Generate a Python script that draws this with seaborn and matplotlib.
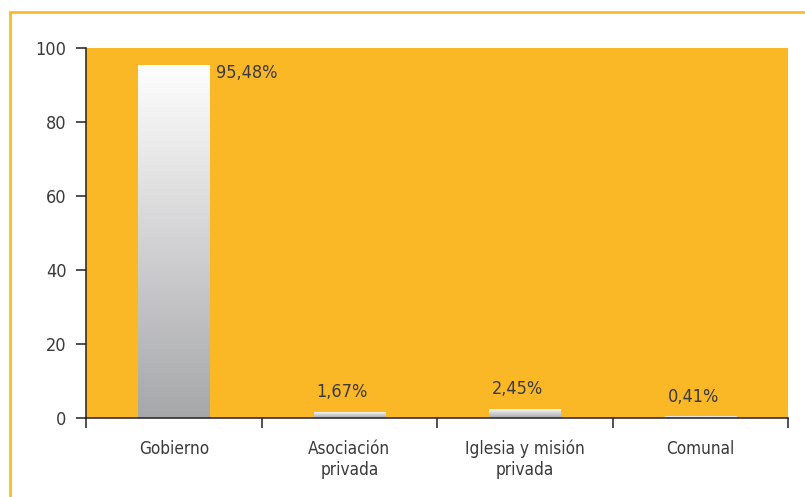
import matplotlib
matplotlib.use("Agg")
import matplotlib.pyplot as plt
import numpy as np
import pandas as pd
import seaborn as sns
from matplotlib.colors import LinearSegmentedColormap
from matplotlib.patches import Rectangle
from matplotlib import font_manager

categories = ["Gobierno", "Asociación\nprivada", "Iglesia y misión\nprivada", "Comunal"]
values = [95.48, 1.67, 2.45, 0.41]
value_labels = ["95,48%", "1,67%", "2,45%", "0,41%"]
y_ticks = [0, 20, 40, 60, 80, 100]

ORANGE = "#FBB826"
TEXT = "#3a3a3a"
AXIS = "#231f20"

sns.set_style("ticks")
names = {f.name for f in font_manager.fontManager.ttflist}
if "Liberation Sans Narrow" in names:
    plt.rcParams["font.family"] = ["Liberation Sans Narrow", "DejaVu Sans"]
else:
    plt.rcParams["font.family"] = ["DejaVu Sans"]
    plt.rcParams["font.stretch"] = "condensed"

df = pd.DataFrame({"cat": categories, "val": values})

fig = plt.figure(figsize=(8.05, 4.97), dpi=100)
ax = fig.add_axes([86 / 805, 1 - 417.7 / 497, (788 - 86) / 805, (417.7 - 48.3) / 497])
ax.set_facecolor(ORANGE)

sns.barplot(data=df, x="cat", y="val", ax=ax, width=0.405, color="white",
            edgecolor="none", linewidth=0, saturation=1)

cmap = LinearSegmentedColormap.from_list("g", ["#a6a7a9", "#fefefe"])
grad = np.linspace(0, 1, 256).reshape(-1, 1)
for p in list(ax.patches):
    x0 = p.get_x()
    w = p.get_width()
    h = p.get_height()
    im = ax.imshow(grad, cmap=cmap, origin="lower", aspect="auto",
                   extent=[x0, x0 + w, 0, h], zorder=p.get_zorder(), interpolation="bilinear")
    im.set_clip_path(p)

ax.set_xlim(-0.5, 3.5)
ax.set_ylim(0, 100)
ax.set_yticks(y_ticks)
ax.set_xlabel("")
ax.set_ylabel("")

# Value labels
for i, (v, lab) in enumerate(zip(values, value_labels)):
    if i == 0:
        ax.annotate(lab, xy=(i + 0.405 / 2, v), xytext=(5, -6), textcoords="offset points",
                    ha="left", va="center", fontsize=13, color=TEXT)
    else:
        ax.annotate(lab, xy=(i, v), xytext=(-5, 14), textcoords="offset points",
                    ha="center", va="center", fontsize=13, color=TEXT)

# Spines and ticks
for s in ["top", "right"]:
    ax.spines[s].set_visible(False)
for s in ["left", "bottom"]:
    ax.spines[s].set_color(AXIS)
    ax.spines[s].set_linewidth(1.1)

ax.tick_params(axis="y", direction="out", length=7, width=1.1, color=AXIS, pad=7,
               labelsize=13, labelcolor=TEXT)
ax.set_xticks(range(len(categories)))
ax.set_xticklabels(categories)
ax.set_xticks([-0.5, 0.5, 1.5, 2.5, 3.5], minor=True)
ax.tick_params(axis="x", which="major", length=0, pad=16, labelsize=12.3, labelcolor=TEXT)
ax.tick_params(axis="x", which="minor", direction="out", length=7, width=1.1, color=AXIS)

# Outer frame
fig.add_artist(Rectangle((9.5 / 805, -0.1), 1.2, 1 - 11.5 / 497 + 0.1,
                         transform=fig.transFigure, fill=False, edgecolor=ORANGE,
                         linewidth=1.9))

fig.savefig("out.png", dpi=100)
